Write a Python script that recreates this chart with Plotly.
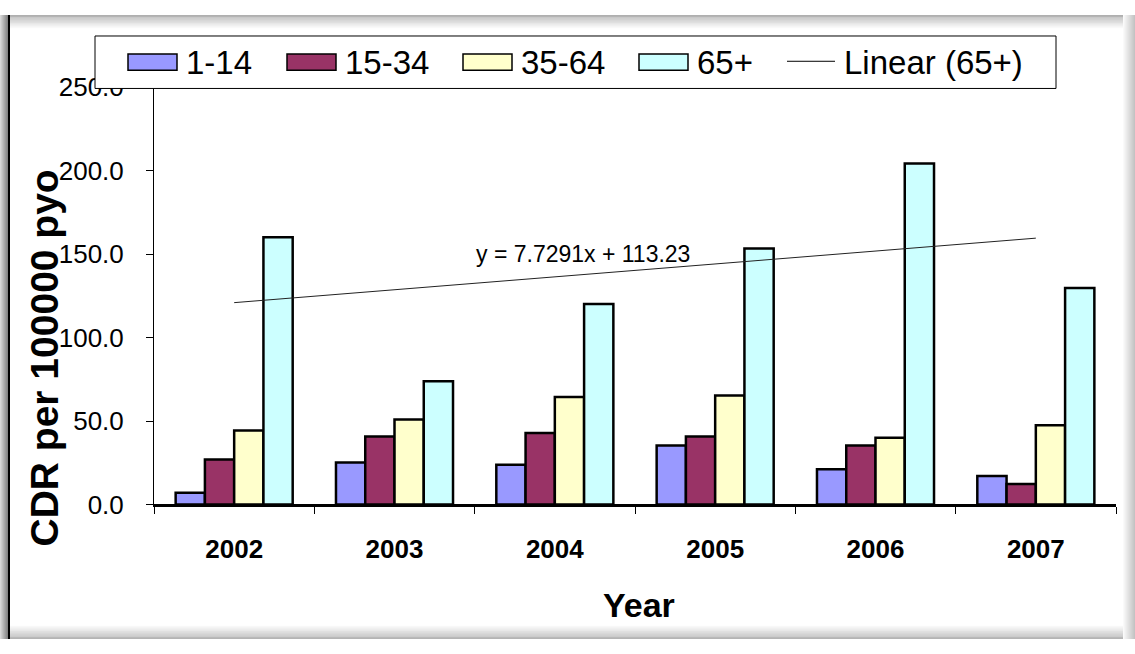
import plotly.graph_objects as go

# ---- data -------------------------------------------------------------
years = ["2002", "2003", "2004", "2005", "2006", "2007"]
age_groups = ["1-14", "15-34", "35-64", "65+"]
cdr_1_14 = [7.0, 25.1, 23.8, 35.4, 21.1, 17.1]
cdr_15_34 = [26.9, 40.8, 42.9, 40.8, 35.4, 12.2]
cdr_35_64 = [44.4, 50.9, 64.4, 65.3, 40.0, 47.4]
cdr_65_plus = [160.2, 73.8, 120.1, 153.4, 204.4, 129.8]
trend_slope = 7.7291
trend_intercept = 113.23
y_ticks = [0, 50, 100, 150, 200, 250]

series = [cdr_1_14, cdr_15_34, cdr_35_64, cdr_65_plus]
colors = ["#9999FF", "#993366", "#FFFFCC", "#CCFFFF"]

W, H = 1135, 654
FONT = "Liberation Sans, Arial, sans-serif"


def fx(x):
    """pixel column -> paper fraction"""
    return x / W


def fy(y):
    """pixel row (from top) -> paper fraction"""
    return 1 - y / H


fig = go.Figure()

for name, vals, col in zip(age_groups, series, colors):
    fig.add_trace(go.Bar(
        x=years, y=vals, name=name,
        marker=dict(color=col, line=dict(color="black", width=2.5)),
        showlegend=False,
    ))

# linear trend of the 65+ series, x = 1..6
trend_y = [trend_slope * (i + 1) + trend_intercept for i in range(len(years))]
fig.add_trace(go.Scatter(
    x=years, y=trend_y, mode="lines", name="Linear (65+)",
    line=dict(color="#222222", width=1), showlegend=False,
))

shapes = []
annotations = []


# soft frame around the panel
def band(x0, y0, x1, y1, color):
    shapes.append(dict(type="rect", xref="paper", yref="paper",
                       x0=fx(x0), x1=fx(x1), y0=fy(y1), y1=fy(y0),
                       fillcolor=color, line=dict(width=0), layer="above"))


def grey(v):
    v = int(max(0, min(255, v)))
    return f"rgb({v},{v},{v})"


for i in range(14):
    band(0, i, W, i + 1, grey(175 + i * 80 / 14))
for i in range(14):
    band(0, 640 + i, W, 641 + i, grey(250 - i * 75 / 14))
for i in range(12):
    band(1123 + i, 0, 1124 + i, H, grey(250 - i * 60 / 12))
for i in range(8):
    band(i, 0, i + 1, H, grey(215 - i * 12))
band(8, 0, 10, H, "black")

# legend box
shapes.append(dict(type="rect", xref="paper", yref="paper",
                   x0=fx(95), x1=fx(1056), y0=fy(77), y1=fy(22),
                   fillcolor="white", line=dict(color="black", width=1),
                   layer="above"))
swatch_x = [128, 287, 463, 639]
for sx, name, col in zip(swatch_x, age_groups, colors):
    shapes.append(dict(type="rect", xref="paper", yref="paper",
                       x0=fx(sx), x1=fx(sx + 49), y0=fy(58), y1=fy(41),
                       fillcolor=col, line=dict(color="black", width=1.5),
                       layer="above"))
    annotations.append(dict(xref="paper", yref="paper", x=fx(sx + 56), y=fy(50),
                            xanchor="left", yanchor="middle", showarrow=False,
                            text=name, font=dict(family=FONT, size=33, color="black")))
shapes.append(dict(type="line", xref="paper", yref="paper",
                   x0=fx(787), x1=fx(835), y0=fy(48.5), y1=fy(48.5),
                   line=dict(color="black", width=1), layer="above"))
annotations.append(dict(xref="paper", yref="paper", x=fx(842), y=fy(50),
                        xanchor="left", yanchor="middle", showarrow=False,
                        text="Linear (65+)", font=dict(family=FONT, size=33, color="black")))

# trend equation
annotations.append(dict(xref="paper", yref="paper", x=fx(583), y=fy(250),
                        xanchor="center", yanchor="middle", showarrow=False,
                        text=f"y = {trend_slope}x + {trend_intercept}",
                        font=dict(family=FONT, size=23, color="black")))

# axis titles
annotations.append(dict(xref="paper", yref="paper", x=fx(639), y=fy(618),
                        xanchor="center", yanchor="middle", showarrow=False,
                        text="<b>Year</b>", font=dict(family=FONT, size=34, color="black")))
annotations.append(dict(xref="paper", yref="paper", x=fx(44), y=fy(360),
                        xanchor="center", yanchor="middle", showarrow=False,
                        textangle=-90,
                        text="<b>CDR per 100000 pyo</b>",
                        font=dict(family=FONT, size=39, color="black")))

fig.update_layout(
    width=W, height=H, autosize=False,
    margin=dict(l=0, r=0, t=0, b=0),
    paper_bgcolor="white", plot_bgcolor="white",
    barmode="group", bargap=0.27, bargroupgap=0,
    font=dict(family=FONT, color="black"),
    shapes=shapes, annotations=annotations,
    showlegend=False,
    xaxis=dict(
        type="category", domain=[fx(154), fx(1116)],
        showline=True, linecolor="black", linewidth=2.5,
        ticks="outside", tickson="boundaries", ticklen=7, tickwidth=1,
        tickcolor="black", showgrid=False, zeroline=False,
        tickfont=dict(family=FONT, size=26, color="black", weight="bold"),
        ticklabelstandoff=20,
    ),
    yaxis=dict(
        domain=[fy(513), fy(75.8)], range=[0, 250],
        tickvals=y_ticks, tickformat=".1f",
        showline=True, linecolor="black", linewidth=1,
        ticks="outside", ticklen=7, tickwidth=1, tickcolor="black",
        showgrid=False, zeroline=False,
        tickfont=dict(family=FONT, size=26, color="black"),
        ticklabelstandoff=17,
    ),
)

fig.write_html("out.html")
